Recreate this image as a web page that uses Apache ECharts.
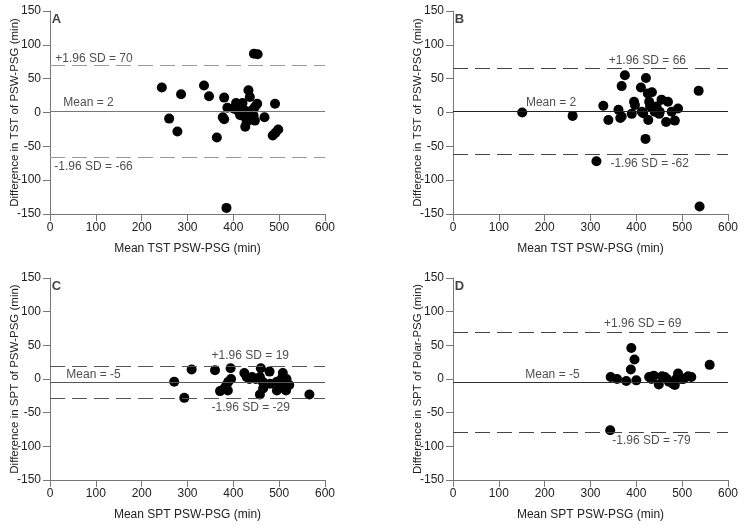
<!DOCTYPE html>
<html><head><meta charset="utf-8">
<script src="https://cdn.jsdelivr.net/npm/echarts@6/dist/echarts.min.js"></script>
<style>html,body{margin:0;padding:0;background:#fff}#c{width:746px;height:525px}</style>
</head><body><div id="c"></div>
<script>
// Panel A: TST PSW-PSG
const ptsA = [[244,37],[260,-9],[278,-28],[286,27],[336,40],[347,24],[364,-37],[380,22],[377,-7],[380,-10],[387,7],[385,-141],[400,6],[406,14],[409,3],[415,-4],[420,14],[423,4],[426,-7],[429,-14],[426,-21],[433,33],[436,23],[436,-9],[440,3],[444,-4],[447,-12],[447,8],[445,87],[453,86],[452,13],[468,-7],[491,13],[486,-34],[492,-30],[498,-25]];
// Panel B: TST PSW-PSG
const ptsB = [[151,0],[261,-5],[313,-72],[328,10],[339,-11],[361,4],[365,-8],[368,-6],[368,39],[375,55],[390,-2],[395,16],[397,11],[410,37],[412,1],[415,-1],[421,51],[420,-39],[425,28],[426,-11],[428,16],[430,9],[434,30],[440,1],[444,9],[450,-2],[451,1],[455,19],[465,-14],[469,16],[477,1],[484,-12],[491,6],[536,32],[538,-139]];
// Panel C: SPT PSW-PSG
const ptsC = [[271,-4],[293,-28],[309,14],[360,13],[371,-18],[380,-14],[385,-9],[388,-17],[389,-4],[395,0],[394,16],[424,9],[429,3],[435,0],[441,3],[449,0],[458,3],[460,16],[464,-4],[458,-23],[465,-14],[479,11],[480,-7],[495,-4],[495,-17],[502,-7],[505,0],[508,9],[511,-12],[515,-17],[516,0],[522,-9],[566,-23]];
// Panel D: SPT Polar-PSG
const ptsD = [[344,3],[358,0],[378,-3],[388,14],[389,46],[396,29],[400,-2],[343,-76],[428,3],[433,0],[438,5],[449,-8],[456,4],[462,3],[467,0],[471,-4],[480,-7],[484,-9],[487,0],[491,8],[495,3],[498,0],[503,0],[513,4],[520,3],[560,21]];

const panelLetters = ['A','B','C','D'];
const meanVals = [2, 2, -5, -5];
const upperVals = [70, 66, 19, 69];
const lowerVals = [-66, -62, -29, -79];
const xNames = ['Mean TST PSW-PSG (min)','Mean TST PSW-PSG (min)','Mean SPT PSW-PSG (min)','Mean SPT PSW-PSG (min)'];
const yNames = ['Difference in TST of PSW-PSG (min)','Difference in TST of PSW-PSG (min)','Difference in SPT of PSW-PSG (min)','Difference in SPT of Polar-PSG (min)'];
// label anchor positions (data coords) for upper, mean, lower annotations
const labelPosUpper = [[96,80],[424,77],[437,34],[414,82]];
const labelPosMean = [[84,14],[214,14],[95,6],[217,6]];
const labelPosLower = [[95,-80],[429,-75],[438,-43],[433,-92]];
const allPts = [ptsA, ptsB, ptsC, ptsD];

const grids = [
  {left:50, top:11, width:275, height:203},
  {left:453, top:11, width:275, height:203},
  {left:50, top:278, width:275, height:202},
  {left:453, top:278, width:275, height:202}
];
const dashColors = ['#9a9a9a','#444','#555','#444'];
const meanColors = ['#777','#222','#555','#333'];

const xAxes = [], yAxes = [], series = [];
for (let i=0;i<4;i++){
  xAxes.push({gridIndex:i, type:'value', min:0, max:600, interval:100,
    name:xNames[i], nameLocation:'middle', nameGap:29, nameMoveOverlap:false,
    nameTextStyle:{fontFamily:'Liberation Sans', fontSize:12, color:'#222'},
    axisLine:{onZero:false, lineStyle:{color:'#777', width:1}},
    axisTick:{show:true, length:7, lineStyle:{color:'#777'}},
    axisLabel:{fontFamily:'Liberation Sans', fontSize:12, color:'#222', margin:8},
    splitLine:{show:false}});
  yAxes.push({gridIndex:i, type:'value', min:-150, max:150, interval:50,
    name:yNames[i], nameLocation:'middle', nameGap:29, nameRotate:90, nameMoveOverlap:false,
    nameTextStyle:{fontFamily:'Liberation Sans', fontSize:11.5, color:'#222'},
    axisLine:{show:true, onZero:false, lineStyle:{color:'#777', width:1}},
    axisTick:{show:true, length:7, lineStyle:{color:'#777'}},
    axisLabel:{fontFamily:'Liberation Sans', fontSize:12, color:'#222', margin:9},
    splitLine:{show:false}});
  series.push({type:'scatter', xAxisIndex:i, yAxisIndex:i, data:allPts[i], symbolSize:10,
    itemStyle:{color:'#000', opacity:1}, z:3,
    markLine:{silent:true, symbol:'none', animation:false, label:{show:false},
      data:[
        {yAxis:upperVals[i], lineStyle:{type:[15,7], color:dashColors[i], width:1.2}},
        {yAxis:meanVals[i], lineStyle:{type:'solid', color:meanColors[i], width:1}},
        {yAxis:lowerVals[i], lineStyle:{type:[15,7], color:dashColors[i], width:1.2}}
      ]}});
  const txt = {fontFamily:'Liberation Sans', fontSize:12, color:'#222'};
  series.push({type:'scatter', xAxisIndex:i, yAxisIndex:i, symbolSize:0, silent:true, z:4,
    data:[
      {value:labelPosUpper[i], name:'+1.96 SD = '+upperVals[i]},
      {value:labelPosMean[i], name:'Mean = '+meanVals[i]},
      {value:labelPosLower[i], name:'-1.96 SD = '+lowerVals[i]}
    ],
    label:{show:true, position:'inside', formatter:p=>p.name, ...txt}});
  series.push({type:'scatter', xAxisIndex:i, yAxisIndex:i, symbolSize:0, silent:true, z:4,
    data:[{value:[14,137], name:panelLetters[i]}],
    label:{show:true, position:'inside', formatter:p=>p.name, fontFamily:'Liberation Sans', fontSize:13, fontWeight:'bold', color:'#111'}});
}

const chart = echarts.init(document.getElementById('c'));
chart.setOption({animation:false, backgroundColor:'#fff', grid:grids, xAxis:xAxes, yAxis:yAxes, series:series});
</script></body></html>
